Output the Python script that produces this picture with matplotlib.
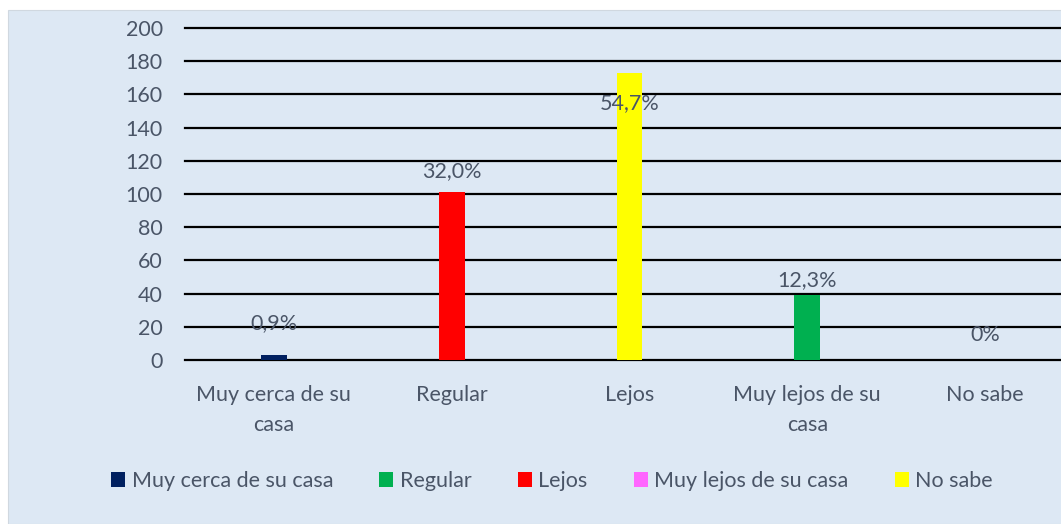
import matplotlib.pyplot as plt
from matplotlib.patches import Patch

plt.rcParams['font.family'] = ['Lato', 'DejaVu Sans']

# data
categories = ["Muy cerca de su\ncasa", "Regular", "Lejos", "Muy lejos de su\ncasa", "No sabe"]
values = [3, 101, 173, 39, 0]
labels = ["0,9%", "32,0%", "54,7%", "12,3%", "0%"]
label_y = [22, 114, 155, 48, 15]
bar_colors = ["#002060", "#FF0000", "#FFFF00", "#00B050", "#FF66FF"]
legend_names = ["Muy cerca de su casa", "Regular", "Lejos", "Muy lejos de su casa", "No sabe"]
legend_colors = ["#002060", "#00B050", "#FF0000", "#FF66FF", "#FFFF00"]

bg = "#DDE8F4"
txt = "#4A5567"
fs = 15.5

fig = plt.figure(figsize=(10.61, 5.24), dpi=100)
fig.patches.append(plt.Rectangle((8 / 1061, 0), 1, (524 - 10) / 524, transform=fig.transFigure,
                                 facecolor=bg, edgecolor="#d0d8e0", lw=0.8, zorder=-1))

ax = fig.add_axes([185 / 1061, (524 - 360) / 524, (1061 - 185) / 1061, 332 / 524])
ax.set_facecolor("none")
x = range(len(categories))
ax.bar(x, values, width=0.146, color=bar_colors, zorder=3)
for i, (lab, ly) in enumerate(zip(labels, label_y)):
    ax.text(i, ly, lab, ha="center", va="center", fontsize=fs, color=txt, zorder=4)

ax.set_ylim(0, 200)
ax.set_yticks(range(0, 201, 20))
ax.set_xlim(-0.5, -0.5 + 876 / 177.8)
ax.set_xticks(list(x))
ax.set_xticklabels(categories, fontsize=fs, color=txt, linespacing=1.65)
ax.tick_params(axis="y", labelsize=fs, labelcolor=txt, length=0, pad=16)
ax.tick_params(axis="x", length=0, pad=18)
ax.grid(axis="y", color="black", lw=1.6, zorder=1)
for gl in ax.yaxis.get_gridlines():
    gl.set_clip_on(False)
for s in ax.spines.values():
    s.set_visible(False)

handles = [Patch(facecolor=c, edgecolor="none") for c in legend_colors]
leg = fig.legend(handles, legend_names, loc="center", bbox_to_anchor=(552 / 1061, 1 - 481 / 524),
                 ncol=5, frameon=False, fontsize=fs, handlelength=0.65, handleheight=0.65,
                 handletextpad=0.3, columnspacing=2.15)
for t in leg.get_texts():
    t.set_color(txt)

fig.savefig("out.png", dpi=100)
